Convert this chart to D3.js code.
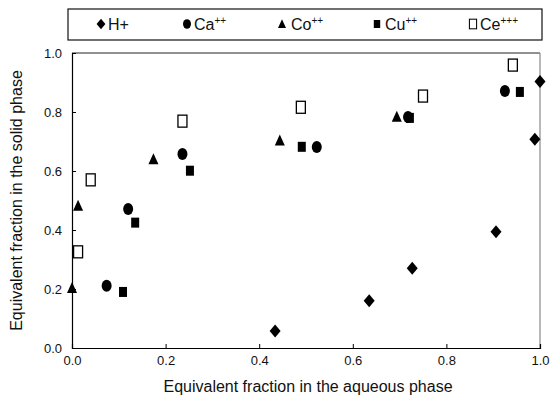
<!DOCTYPE html>
<html>
<head>
<meta charset="utf-8">
<script src="https://cdn.jsdelivr.net/npm/d3@7"></script>
<style>
  body { margin: 0; background: #fff; }
  svg { font-family: Arial, "Liberation Sans", sans-serif; }
</style>
</head>
<body>
<svg id="chart"></svg>
<script>
// data
var ionNames = ["H+", "Ca", "Co", "Cu", "Ce"];
var ionSup = ["", "++", "++", "++", "+++"];
var hX = [0.434, 0.635, 0.727, 0.906, 0.989, 1.0];
var hY = [0.058, 0.160, 0.270, 0.394, 0.708, 0.903];
var caX = [0.074, 0.120, 0.236, 0.523, 0.718, 0.925];
var caY = [0.211, 0.471, 0.658, 0.681, 0.783, 0.871];
var coX = [0.0, 0.013, 0.174, 0.444, 0.694];
var coY = [0.203, 0.482, 0.640, 0.703, 0.784];
var cuX = [0.109, 0.135, 0.252, 0.491, 0.722, 0.957];
var cuY = [0.190, 0.425, 0.601, 0.682, 0.780, 0.868];
var ceX = [0.013, 0.040, 0.236, 0.489, 0.750, 0.942];
var ceY = [0.326, 0.570, 0.769, 0.816, 0.854, 0.959];
var tickVals = [0, 0.2, 0.4, 0.6, 0.8, 1.0];

var width = 553,
    height = 405,
    padL = 72, padR = 540, padT = 53, padB = 348;

var x = d3.scaleLinear().domain([0, 1]).range([padL, padR]),
    y = d3.scaleLinear().domain([0, 1]).range([padB, padT]);

var svg = d3.select("#chart").attr("width", width).attr("height", height);

// marker shapes, centered on 0,0
var shapes = {
  diamond: function(g){ g.append("path").attr("d", "M0,-6.5L5.5,0L0,6.5L-5.5,0Z").attr("fill", "#000"); },
  circle: function(g){ g.append("ellipse").attr("rx", 5).attr("ry", 6).attr("fill", "#000"); },
  triangle: function(g){ g.append("path").attr("d", "M0,-6L5,5L-5,5Z").attr("fill", "#000"); },
  square: function(g){ g.append("rect").attr("x", -4).attr("y", -5).attr("width", 8).attr("height", 10).attr("fill", "#000"); },
  open: function(g){ g.append("rect").attr("x", -4.5).attr("y", -6).attr("width", 9).attr("height", 12)
                      .attr("fill", "#fff").attr("stroke", "#000").attr("stroke-width", 1.3); }
};

var groups = [
  {xs: hX, ys: hY, shape: "diamond"},
  {xs: caX, ys: caY, shape: "circle"},
  {xs: coX, ys: coY, shape: "triangle"},
  {xs: cuX, ys: cuY, shape: "square"},
  {xs: ceX, ys: ceY, shape: "open"}
];

// frame
svg.append("line").attr("x1", x(0)).attr("x2", x(1)).attr("y1", y(1)).attr("y2", y(1))
  .attr("stroke", "#222").attr("stroke-width", 1);
svg.append("line").attr("x1", x(1)).attr("x2", x(1)).attr("y1", y(0)).attr("y2", y(1))
  .attr("stroke", "#888").attr("stroke-width", 1.2);

var xAxis = d3.axisBottom(x).tickValues(tickVals).tickSize(-4).tickPadding(8)
  .tickFormat(d3.format(".1f"));
var yAxis = d3.axisLeft(y).tickValues(tickVals).tickSize(-4).tickPadding(10)
  .tickFormat(d3.format(".1f"));

var gx = svg.append("g").attr("transform", "translate(0," + y(0) + ")").call(xAxis);
var gy = svg.append("g").attr("transform", "translate(" + x(0) + ",0)").call(yAxis);
[gx, gy].forEach(function(g){
  g.select(".domain").attr("stroke", "#000").attr("stroke-width", 1.2);
  g.selectAll(".tick line").attr("stroke", "#000");
  g.selectAll(".tick text").attr("font-size", 13).attr("fill", "#111")
    .attr("font-family", "Arial, 'Liberation Sans', sans-serif");
});

// points
groups.forEach(function(s){
  s.xs.forEach(function(v, i){
    var g = svg.append("g").attr("transform", "translate(" + x(v) + "," + y(s.ys[i]) + ")");
    shapes[s.shape](g);
  });
});

// axis titles
svg.append("text").attr("x", (padL + padR) / 2 + 2).attr("y", 392)
  .attr("text-anchor", "middle").attr("font-size", 16).attr("fill", "#111")
  .text("Equivalent fraction in the aqueous phase");
svg.append("text").attr("transform", "translate(22," + ((padT + padB) / 2) + ") rotate(-90)")
  .attr("text-anchor", "middle").attr("font-size", 16).attr("fill", "#111")
  .text("Equivalent fraction in the solid phase");

// legend
var legend = svg.append("g");
legend.append("rect").attr("x", 68).attr("y", 9).attr("width", 474).attr("height", 31)
  .attr("fill", "none").attr("stroke", "#111").attr("stroke-width", 1.2);
var legendX = [101, 187, 282, 377, 473];
var legendGap = [7, 7, 9, 8, 7];
groups.forEach(function(s, i){
  var g = legend.append("g").attr("transform", "translate(" + legendX[i] + ",24) scale(0.8)");
  shapes[s.shape](g);
  var t = legend.append("text").attr("x", legendX[i] + legendGap[i]).attr("y", 30)
    .attr("font-size", 16).attr("fill", "#111").text(ionNames[i]);
  if (ionSup[i]) t.append("tspan").attr("font-size", 10).attr("dy", -6).text(ionSup[i]);
});
</script>
</body>
</html>
